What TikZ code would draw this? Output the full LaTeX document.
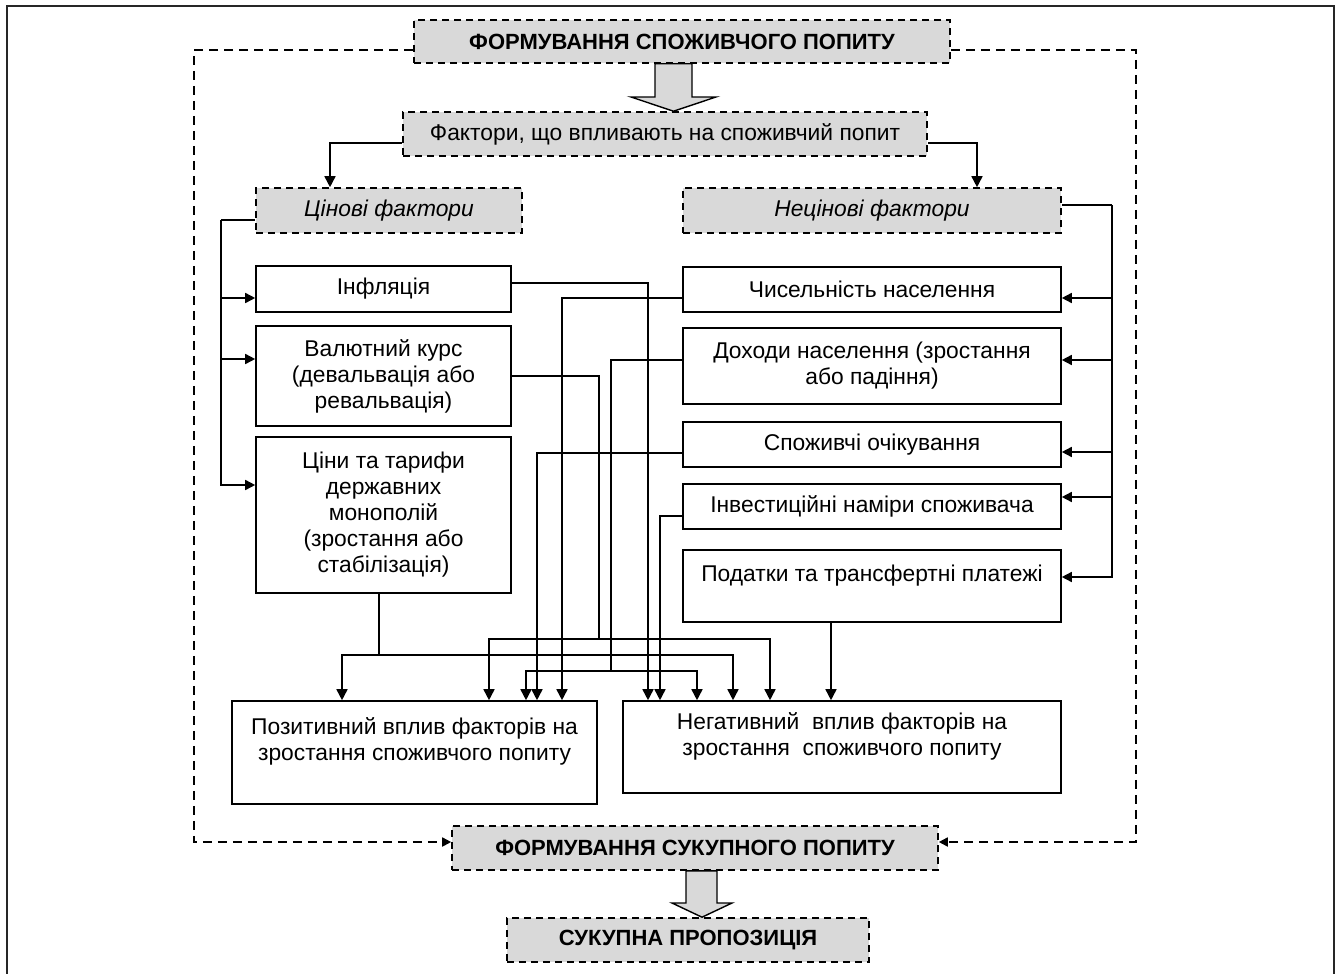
\documentclass[tikz,border=0pt]{standalone}
\usepackage{fontspec}
\setmainfont{Liberation Sans}
\usetikzlibrary{arrows.meta,calc}
\definecolor{boxgray}{RGB}{217,217,217}
\begin{document}
\begin{tikzpicture}[x=1pt,y=-1pt,
  every node/.style={font=\fontsize{22.8}{26}\selectfont, inner sep=0pt, align=center},
  plainbox/.style={draw, line width=1.6pt, rectangle},
  greybox/.style={draw, fill=boxgray, line width=1.6pt, dash pattern=on 7pt off 5pt},
  headtext/.style={font=\fontsize{22}{26}\selectfont\bfseries},
  conn/.style={line width=1.6pt},
  arr/.style={conn, -{Triangle[length=11pt,width=11pt]}},
  sarr/.style={conn, -{Triangle[length=10pt,width=10pt]}},
  frame/.style={line width=1.7pt, dash pattern=on 9pt off 6pt},
  farr/.style={frame, -{Triangle[length=9pt,width=9pt]}},
  hollow/.style={draw, fill=boxgray, line width=1.4pt, line join=miter}]
\useasboundingbox (0,0) rectangle (1338,974);
% outer frame
\draw[line width=2.8pt, black!85] (7,980) -- (7,6) -- (1334,6) -- (1334,980);

% nodes
\node[greybox, headtext, minimum width=536pt, minimum height=43pt] (top) at (682,41.5) {ФОРМУВАННЯ СПОЖИВЧОГО ПОПИТУ};
\node[greybox, minimum width=524pt, minimum height=44pt] (fakt) at (665,134) {Фактори, що впливають на споживчий попит};
\node[greybox, minimum width=266pt, minimum height=45pt] (tsin) at (389,210.5) {\itshape Цінові фактори};
\node[greybox, minimum width=378pt, minimum height=45pt] (netsin) at (872,210.5) {\itshape Нецінові фактори};

\node[plainbox, minimum width=255pt, minimum height=46pt] (infl) at (383.5,289) {Інфляція};
\node[plainbox, minimum width=255pt, minimum height=100pt] (val) at (383.5,376) {Валютний курс\\(девальвація або\\ревальвація)};
\node[plainbox, minimum width=255pt, minimum height=156pt] (tsiny) at (383.5,515) {Ціни та тарифи\\державних\\монополій\\(зростання або\\стабілізація)};

\node[plainbox, minimum width=378pt, minimum height=45pt] (chys) at (872,289.5) {Чисельність населення};
\node[plainbox, minimum width=378pt, minimum height=76pt] (dokh) at (872,366) {Доходи населення (зростання\\або падіння)};
\node[plainbox, minimum width=378pt, minimum height=45pt] (spozh) at (872,444.5) {Споживчі очікування};
\node[plainbox, minimum width=378pt, minimum height=45pt] (invest) at (872,506.5) {Інвестиційні наміри споживача};
\node[plainbox, minimum width=378pt, minimum height=72pt] (podat) at (872,586) {Податки та трансфертні платежі\\\mbox{}};

\node[plainbox, minimum width=365pt, minimum height=103pt] (poz) at (414.5,752.5) {Позитивний вплив факторів на\\зростання споживчого попиту\\\mbox{}};
\node[plainbox, minimum width=438pt, minimum height=92pt] (neg) at (842,747) {Негативний\ \ вплив факторів на\\зростання\ \ споживчого попиту\\\mbox{}};

\node[greybox, headtext, minimum width=486pt, minimum height=44pt] (sukpop) at (695,848) {ФОРМУВАННЯ СУКУПНОГО ПОПИТУ};
\node[greybox, headtext, minimum width=362pt, minimum height=44pt] (prop) at (688,940) {СУКУПНА ПРОПОЗИЦІЯ};

% dashed frame
\draw[farr] (top.west |- 0,50) -- (194,50) -- (194,842) -- (sukpop.west |- 0,842);
\draw[farr] (top.east |- 0,50) -- (1136,50) -- (1136,842) -- (sukpop.east |- 0,842);

% hollow arrows
\draw[hollow] (top.south -| 655,0) -- (655,97) -- (631,97) -- (fakt.north -| 673.5,0) -- (716,97) -- (692,97) -- (top.south -| 692,0) -- cycle;
\draw[hollow] (sukpop.south -| 686,0) -- (686,903) -- (672,903) -- (prop.north -| 702,0) -- (732,903) -- (717,903) -- (sukpop.south -| 717,0) -- cycle;

% from factors
\draw[arr] (fakt.west |- 0,143) -| (tsin.north -| 330,0);
\draw[arr] (fakt.east |- 0,143) -| (netsin.north -| 977,0);

% left bus
\coordinate (lb) at (221,220);
\draw[conn] (tsin.west |- lb) -- (lb);
\draw[sarr] (lb) |- (tsiny.west |- 0,485);
\draw[sarr] (lb |- 0,298) -- (infl.west |- 0,298);
\draw[sarr] (lb |- 0,359) -- (val.west |- 0,359);

% right bus
\coordinate (rb) at (1112,205);
\draw[conn] (netsin.east |- rb) -- (rb);
\draw[sarr] (rb) |- (podat.east |- 0,577);
\draw[sarr] (rb |- 0,298) -- (chys.east |- 0,298);
\draw[sarr] (rb |- 0,360) -- (dokh.east |- 0,360);
\draw[sarr] (rb |- 0,452) -- (spozh.east |- 0,452);
\draw[sarr] (rb |- 0,497) -- (invest.east |- 0,497);

% middle connectors
\draw[arr] (infl.east |- 0,283) -| (neg.north -| 648,0);
\draw[arr] (chys.west |- 0,298) -| (poz.north -| 562,0);
\draw[arr] (spozh.west |- 0,453) -| (poz.north -| 537,0);
\draw[arr] (invest.west |- 0,516) -| (neg.north -| 660,0);
\draw[arr] (podat.south -| 831,0) -- (neg.north -| 831,0);

\coordinate (dj) at (611,671);
\draw[conn] (dokh.west |- 0,360) -| (dj);
\draw[arr] (dj) -| (poz.north -| 526,0);
\draw[arr] (dj) -| (neg.north -| 697,0);

\coordinate (vj) at (599,639);
\draw[conn] (val.east |- 0,376) -| (vj);
\draw[arr] (vj) -| (poz.north -| 489,0);
\draw[arr] (vj) -| (neg.north -| 770,0);

\coordinate (tj) at (379,655);
\draw[conn] (tsiny.south -| tj) -- (tj);
\draw[arr] (tj) -| (poz.north -| 342,0);
\draw[arr] (tj) -| (neg.north -| 733,0);
\end{tikzpicture}
\end{document}
